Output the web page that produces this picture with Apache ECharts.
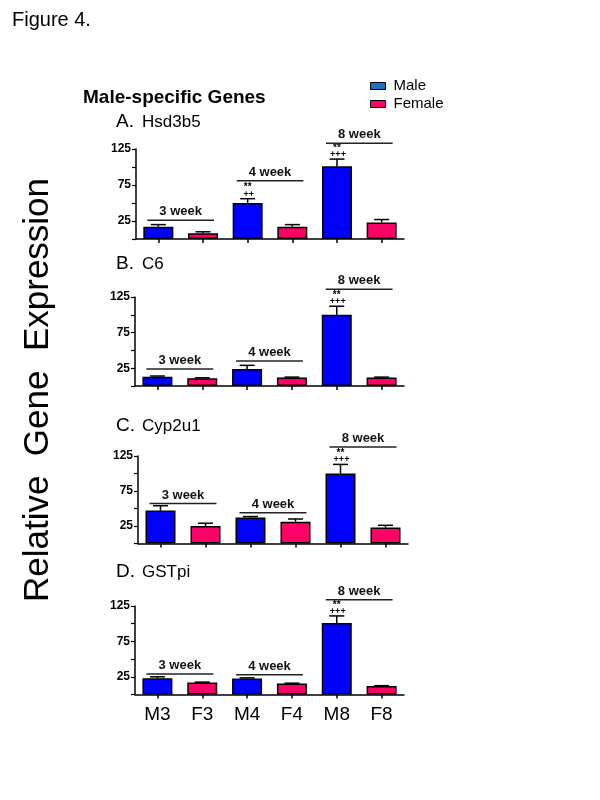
<!DOCTYPE html>
<html>
<head>
<meta charset="utf-8">
<script src="https://cdn.jsdelivr.net/npm/echarts@6/dist/echarts.min.js"></script>
<style>html,body{margin:0;padding:0;background:#fff}#chart{width:600px;height:800px}</style>
</head>
<body>
<div id="chart"></div>
<script>
const categories = ['M3', 'F3', 'M4', 'F4', 'M8', 'F8'];
const genes = ['Hsd3b5', 'C6', 'Cyp2u1', 'GSTpi'];
const letters = ['A.', 'B.', 'C.', 'D.'];
const meanA = [17, 8, 50, 17, 101, 23];
const semA = [3, 2, 6, 3, 10, 4];
const meanB = [13, 11, 24, 12, 100, 12];
const semB = [1, 0.5, 5, 0.5, 12, 0.5];
const meanC = [47, 25, 37, 31, 100, 23];
const semC = [7, 4, 1.5, 4, 13, 3];
const meanD = [23, 17, 22.5, 15.5, 101, 12];
const semD = [2, 0.5, 1, 0.5, 10, 0.5];
const weekLabels = ['3 week', '4 week', '8 week'];
const bracketA = [26, 81, 133];
const bracketB = [24, 35, 136];
const bracketC = [57, 44, 138];
const bracketD = [29, 28, 134];
const starsA = ['', '', '**', '', '**', ''];
const plusA = ['', '', '++', '', '+++', ''];
const starsBCD = ['', '', '', '', '**', ''];
const plusBCD = ['', '', '', '', '+++', ''];
const yTickLabels = [25, 75, 125];

const FONT = '"Liberation Sans", Arial, sans-serif';
const panels = [
  {mean: meanA, sem: semA, br: bracketA, stars: starsA, plus: plusA, grid: {left: 136, width: 268, top: 149, height: 90}, titleY: 123},
  {mean: meanB, sem: semB, br: bracketB, stars: starsBCD, plus: plusBCD, grid: {left: 135, width: 269, top: 297, height: 89}, titleY: 265},
  {mean: meanC, sem: semC, br: bracketC, stars: starsBCD, plus: plusBCD, grid: {left: 138, width: 270, top: 456, height: 87.5}, titleY: 427},
  {mean: meanD, sem: semD, br: bracketD, stars: starsBCD, plus: plusBCD, grid: {left: 135, width: 269, top: 606, height: 88.5}, titleY: 573}
];

const grids = [], xAxes = [], yAxes = [], series = [], graphics = [];
panels.forEach((p, k) => {
  grids.push(p.grid);
  xAxes.push({
    type: 'category', gridIndex: k, data: categories,
    axisLine: {lineStyle: {color: '#000', width: 1.5}},
    axisTick: {show: true, alignWithLabel: true, length: 4, lineStyle: {color: '#000', width: 1.5}},
    axisLabel: {show: k === 3, fontSize: 19, color: '#000', margin: 11, fontFamily: FONT}
  });
  yAxes.push({
    type: 'value', gridIndex: k, min: 0, max: 125, interval: 25,
    splitLine: {show: false},
    axisLine: {show: true, lineStyle: {color: '#000', width: 1.5}},
    axisTick: {show: true, length: 4, lineStyle: {color: '#000', width: 1.2}},
    axisLabel: {
      fontSize: 12, fontWeight: 'bold', color: '#000', margin: 5, fontFamily: FONT,
      formatter: v => (yTickLabels.indexOf(v) >= 0 ? String(v) : '')
    }
  });
  series.push({
    name: 'Male', type: 'bar', xAxisIndex: k, yAxisIndex: k, barWidth: 30, barGap: '-100%',
    data: p.mean.map((v, i) => (i % 2 === 0 ? v : null)),
    itemStyle: {color: '#0000ff', borderColor: '#000', borderWidth: 1.5}
  });
  series.push({
    name: 'Female', type: 'bar', xAxisIndex: k, yAxisIndex: k, barWidth: 30, barGap: '-100%',
    data: p.mean.map((v, i) => (i % 2 === 1 ? v : null)),
    itemStyle: {color: '#ff0066', borderColor: '#000', borderWidth: 1.5}
  });
  series.push({
    type: 'custom', xAxisIndex: k, yAxisIndex: k, clip: false, z: 5,
    encode: {x: 0, y: 1},
    data: p.mean.map((m, i) => [i, m, p.sem[i]]),
    renderItem: (params, api) => {
      const i = api.value(0), m = api.value(1), s = api.value(2);
      const a = api.coord([i, m]);
      const b = api.coord([i, m + s]);
      const hw = 7.5;
      const st = {stroke: '#000', lineWidth: 1.5};
      const ch = [
        {type: 'line', shape: {x1: a[0], y1: a[1], x2: b[0], y2: b[1]}, style: st},
        {type: 'line', shape: {x1: b[0] - hw, y1: b[1], x2: b[0] + hw, y2: b[1]}, style: st}
      ];
      if (p.stars[i]) ch.push({type: 'text', x: b[0], y: b[1] - 11, style: {text: p.stars[i], fill: '#000', font: 'bold 10px ' + FONT, textAlign: 'center', textVerticalAlign: 'middle'}});
      if (p.plus[i]) ch.push({type: 'text', x: b[0] + 1, y: b[1] - 4.5, style: {text: p.plus[i], fill: '#000', font: 'bold 9px ' + FONT, textAlign: 'center', textVerticalAlign: 'middle'}});
      return {type: 'group', children: ch};
    }
  });
  series.push({
    type: 'custom', xAxisIndex: k, yAxisIndex: k, clip: false, z: 5,
    encode: {x: 0, y: 2},
    data: weekLabels.map((w, j) => [2 * j, 2 * j + 1, p.br[j]]),
    renderItem: (params, api) => {
      const a = api.coord([api.value(0), api.value(2)]);
      const b = api.coord([api.value(1), api.value(2)]);
      const x1 = a[0] - 11, x2 = b[0] + 11;
      return {type: 'group', children: [
        {type: 'line', shape: {x1: x1, y1: a[1], x2: x2, y2: a[1]}, style: {stroke: '#222', lineWidth: 1.5}},
        {type: 'text', x: (x1 + x2) / 2, y: a[1] - 8.5, style: {text: weekLabels[params.dataIndex], fill: '#111', font: 'bold 13px ' + FONT, textAlign: 'center', textVerticalAlign: 'middle'}}
      ]};
    }
  });
  graphics.push({type: 'text', left: 116, top: p.titleY - 11, style: {text: letters[k], fill: '#000', font: '19px ' + FONT}});
  graphics.push({type: 'text', left: 142, top: p.titleY - 9.5, style: {text: genes[k], fill: '#000', font: '17px ' + FONT}});
});

graphics.push({type: 'text', left: 12, top: 10, style: {text: 'Figure 4.', fill: '#000', font: '20px ' + FONT}});
graphics.push({type: 'text', left: 83, top: 88, style: {text: 'Male-specific Genes', fill: '#000', font: 'bold 19px ' + FONT}});
graphics.push({
  type: 'text', x: 38, y: 390, rotation: Math.PI / 2,
  style: {text: 'Relative  Gene  Expression', fill: '#000', font: '35px ' + FONT, textAlign: 'center', textVerticalAlign: 'middle'}
});

const chart = echarts.init(document.getElementById('chart'), null, {renderer: 'canvas'});
chart.setOption({
  animation: false,
  backgroundColor: '#fff',
  grid: grids,
  xAxis: xAxes,
  yAxis: yAxes,
  legend: {
    orient: 'vertical', left: 365, top: 73, icon: 'rect', itemWidth: 15, itemHeight: 7, itemGap: 2,
    textStyle: {fontSize: 15, color: '#000', fontFamily: FONT, lineHeight: 16, padding: [0, 0, 0, 3]},
    data: [
      {name: 'Male', itemStyle: {color: '#1f6fc6', borderColor: '#000', borderWidth: 1}},
      {name: 'Female', itemStyle: {color: '#ff0066', borderColor: '#000', borderWidth: 1}}
    ]
  },
  graphic: graphics,
  series: series
});
</script>
</body>
</html>
